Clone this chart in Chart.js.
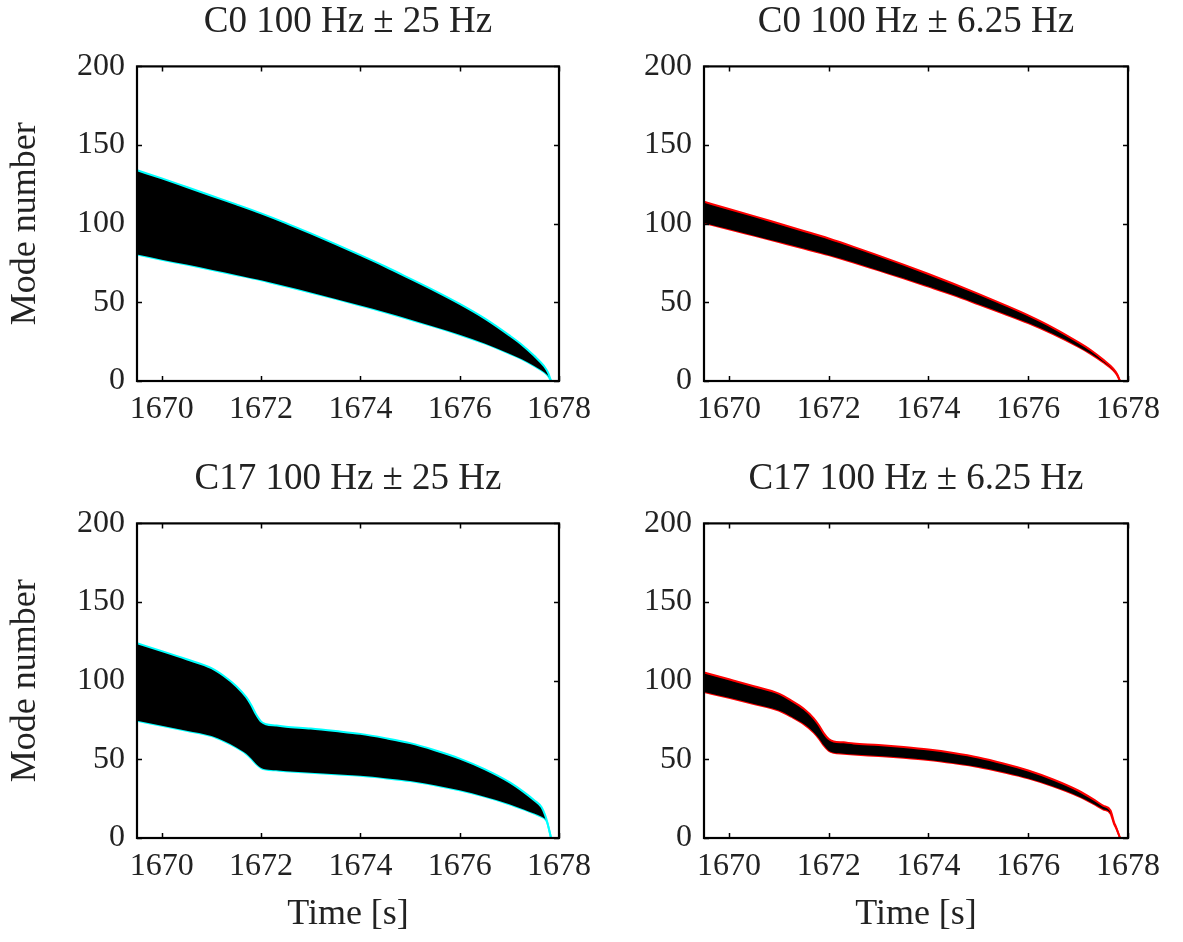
<!DOCTYPE html>
<html>
<head>
<meta charset="utf-8">
<script src="https://cdn.jsdelivr.net/npm/chart.js@4"></script>
<style>
    html, body { margin: 0; padding: 0; background: #fff; }
    body { width: 1183px; height: 942px; position: relative; overflow: hidden; }
    .painel { position: absolute; }
</style>
</head>
<body>
<div class="painel" id="p1" style="left:0;top:0;width:600px;height:457px;"><canvas id="c1"></canvas></div>
<div class="painel" id="p2" style="left:600px;top:0;width:583px;height:457px;"><canvas id="c2"></canvas></div>
<div class="painel" id="p3" style="left:0;top:457px;width:600px;height:485px;"><canvas id="c3"></canvas></div>
<div class="painel" id="p4" style="left:600px;top:457px;width:583px;height:485px;"><canvas id="c4"></canvas></div>
<script>
// ======================== DADOS ========================
const titulos = ['C0 100 Hz ± 25 Hz', 'C0 100 Hz ± 6.25 Hz', 'C17 100 Hz ± 25 Hz', 'C17 100 Hz ± 6.25 Hz'];
const xTicks = [1670, 1672, 1674, 1676, 1678];
const yTicks = [0, 50, 100, 150, 200];

// C0 time base
const tC0 = [1669.5, 1670, 1670.5, 1671, 1671.5, 1672, 1672.5, 1673, 1673.5, 1674, 1674.5,
    1675, 1675.5, 1676, 1676.5, 1677, 1677.25, 1677.5, 1677.7, 1677.78, 1677.84];
const c0Sup25 = [134.0, 128.8, 123.3, 117.8, 112.3, 106.6, 100.4, 93.8, 87.0, 80.0, 72.8,
    65.1, 57.3, 49.0, 39.8, 29.0, 23.1, 16.0, 9.4, 5.3, 0];
const c0Inf25 = [80.4, 77.1, 74.0, 70.7, 67.4, 64.0, 60.2, 56.3, 52.2, 48.0, 43.7,
    39.1, 34.4, 29.4, 23.9, 17.4, 13.9, 9.6, 5.6, 3.2, 0];
const c0Sup6 = [113.9, 109.4, 104.8, 100.1, 95.4, 90.6, 85.3, 79.7, 74.0, 68.0, 61.8,
    55.4, 48.7, 41.7, 33.8, 24.7, 19.7, 13.6, 8.0, 4.5, 0];
const c0Inf6 = [100.5, 96.5, 92.4, 88.3, 84.2, 80.0, 75.3, 70.3, 65.3, 60.0, 54.6,
    48.8, 42.9, 36.8, 29.8, 21.8, 17.3, 12.0, 7.0, 3.9, 0];

// C17 time base
const tC17 = [1669.5, 1670, 1670.5, 1671, 1671.25, 1671.5, 1671.7, 1671.8, 1671.9, 1672, 1672.1, 1672.3,
    1672.5, 1673, 1673.5, 1674, 1674.5, 1675, 1675.5, 1676, 1676.5, 1677, 1677.3, 1677.5,
    1677.65, 1677.72, 1677.76, 1677.84];
const c17Sup25 = [123.8, 118.8, 113.6, 108.0, 103.0, 96.5, 89.5, 84.5, 78.5, 74.0, 72.3, 71.5,
    70.8, 69.6, 68.0, 66.2, 63.5, 60.3, 55.8, 50.5, 43.8, 35.5, 29.0, 24.0,
    19.5, 14.5, 10.5, 0];
const c17Inf25 = [74.5, 71.4, 68.2, 64.8, 61.6, 57.6, 53.5, 50.5, 47.0, 44.5, 43.5, 43.0,
    42.5, 41.5, 40.5, 39.5, 38.0, 36.2, 33.5, 30.3, 26.3, 21.5, 18.0, 15.5,
    13.5, 12.0, 10.0, 0];
const c17Sup6 = [105.2, 100.9, 96.5, 91.8, 87.4, 82.2, 76.1, 71.8, 66.7, 62.9, 61.4, 60.8,
    60.1, 59.1, 57.8, 56.2, 54.0, 51.2, 47.4, 42.9, 37.2, 30.2, 24.7, 20.6,
    17.5, 10.0, 7.0, 0];
const c17Inf6 = [92.8, 89.1, 85.2, 81.0, 77.1, 72.4, 67.1, 63.4, 58.9, 55.5, 54.2, 53.6,
    53.1, 52.1, 51.0, 49.6, 47.6, 45.2, 41.8, 37.9, 32.8, 26.6, 21.8, 18.2,
    15.5, 9.0, 6.5, 0];

// ======================== ESTILO ========================
const FONTE = "'Liberation Serif', 'DejaVu Serif', serif";
const COR_TEXTO = '#222';
const CIANO = '#00ffff';
const VERMELHO = '#ff0000';

// caixa + ticks para dentro (estilo MATLAB)
const caixaPlugin = {
    id: 'caixa',
    afterDraw(chart) {
        const { ctx, chartArea: a, scales: { x, y } } = chart;
        ctx.save();
        ctx.strokeStyle = '#000';
        ctx.lineWidth = 1.5;
        ctx.beginPath();
        x.ticks.forEach((t) => {
            const px = Math.round(x.getPixelForValue(t.value)) + 0.5;
            ctx.moveTo(px, a.bottom); ctx.lineTo(px, a.bottom - 5);
            ctx.moveTo(px, a.top); ctx.lineTo(px, a.top + 5);
        });
        y.ticks.forEach((t) => {
            const py = Math.round(y.getPixelForValue(t.value)) + 0.5;
            ctx.moveTo(a.left, py); ctx.lineTo(a.left + 5, py);
            ctx.moveTo(a.right, py); ctx.lineTo(a.right - 5, py);
        });
        ctx.stroke();
        ctx.lineWidth = 2.2;
        ctx.strokeRect(a.left, a.top, a.right - a.left, a.bottom - a.top);
        ctx.restore();
    },
};

function pontos(ts, vs) {
    return ts.map((t, i) => ({ x: t, y: vs[i] }));
}

// ======================== GRÁFICOS ========================
function criarGrafico(id, titulo, ts, sup, inf, corBorda, opts) {
    const ctx = document.getElementById(id).getContext('2d');
    return new Chart(ctx, {
        type: 'line',
        data: {
            datasets: [
                {
                    data: pontos(ts, sup),
                    borderColor: corBorda,
                    borderWidth: 2,
                    backgroundColor: '#000',
                    fill: '+1',
                    pointRadius: 0,
                    cubicInterpolationMode: 'monotone',
                },
                {
                    data: pontos(ts, inf),
                    borderColor: corBorda,
                    borderWidth: 2,
                    fill: false,
                    pointRadius: 0,
                    cubicInterpolationMode: 'monotone',
                },
            ],
        },
        plugins: [caixaPlugin],
        options: {
            responsive: true,
            maintainAspectRatio: false,
            animation: false,
            layout: { padding: { top: 0, right: opts.padRight, bottom: 0, left: 0 } },
            plugins: {
                legend: { display: false },
                tooltip: { enabled: false },
                title: {
                    display: true,
                    fullSize: false,
                    text: titulo,
                    color: COR_TEXTO,
                    font: { family: FONTE, size: 37, weight: 'normal', lineHeight: 1.2 },
                    padding: { top: 0, bottom: 22 },
                },
            },
            scales: {
                x: {
                    type: 'linear',
                    min: 1669.5,
                    max: 1678,
                    afterBuildTicks: (s) => { s.ticks = xTicks.map((v) => ({ value: v })); },
                    afterFit: (s) => { s.height = opts.alturaX; },
                    grid: { display: false, drawTicks: false },
                    border: { display: false },
                    ticks: {
                        color: COR_TEXTO,
                        padding: 9,
                        maxRotation: 0,
                        font: { family: FONTE, size: 32 },
                        callback: (v) => String(v),
                    },
                    title: {
                        display: opts.tituloX,
                        text: 'Time [s]',
                        color: COR_TEXTO,
                        font: { family: FONTE, size: 36, lineHeight: 1.2 },
                        padding: { top: 0, bottom: 6 },
                    },
                },
                y: {
                    min: 0,
                    max: 200,
                    afterBuildTicks: (s) => { s.ticks = yTicks.map((v) => ({ value: v })); },
                    afterFit: (s) => { s.width = opts.larguraY; },
                    grid: { display: false, drawTicks: false },
                    border: { display: false },
                    ticks: {
                        color: COR_TEXTO,
                        padding: 12,
                        font: { family: FONTE, size: 32 },
                        callback: (v) => String(v),
                    },
                    title: {
                        display: opts.tituloY,
                        text: 'Mode number',
                        color: COR_TEXTO,
                        font: { family: FONTE, size: 36, lineHeight: 1.2 },
                        padding: { top: 4, bottom: 0 },
                    },
                },
            },
        },
    });
}

criarGrafico('c1', titulos[0], tC0, c0Sup25, c0Inf25, CIANO,
    { padRight: 39, alturaX: 76, larguraY: 137, tituloX: false, tituloY: true });
criarGrafico('c2', titulos[1], tC0, c0Sup6, c0Inf6, VERMELHO,
    { padRight: 55, alturaX: 76, larguraY: 104, tituloX: false, tituloY: false });
criarGrafico('c3', titulos[2], tC17, c17Sup25, c17Inf25, CIANO,
    { padRight: 39, alturaX: 104, larguraY: 137, tituloX: true, tituloY: true });
criarGrafico('c4', titulos[3], tC17, c17Sup6, c17Inf6, VERMELHO,
    { padRight: 55, alturaX: 104, larguraY: 104, tituloX: true, tituloY: false });
</script>
</body>
</html>
